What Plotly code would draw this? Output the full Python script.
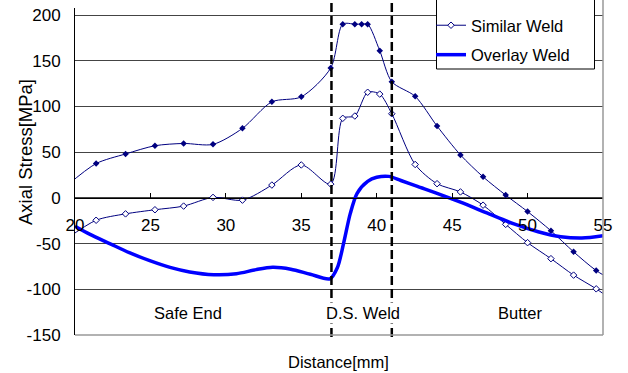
import plotly.graph_objects as go

# Axial stress along the weld path (distance in mm, stress in MPa)
marker_x = [19.43, 21.4, 23.35, 25.3, 27.2, 29.15, 31.1, 33.05, 35.0, 36.95,
            37.75, 38.55, 39.0, 39.4, 40.2, 41.0, 42.55, 44.0, 45.55, 47.05,
            48.55, 50.0, 51.55, 53.05, 54.55, 56.05]
dissimilar_y = [13, 37.5, 48, 57, 59.5, 58.5, 76, 105, 110.5, 142,
                190, 190, 190, 190, 161, 127, 111, 78.5, 47, 23,
                3, -15, -36, -59, -79.5, -94]

similar_x = [19.43, 21.4, 23.35, 25.3, 27.2, 29.15, 31.1, 33.05, 35.0, 36.95,
             37.75, 38.55, 39.4, 40.2, 41.0, 42.55, 44.0, 45.55, 47.05,
             48.55, 50.0, 51.55, 53.05, 54.55, 56.05]
similar_y = [-45, -24.5, -17.5, -13, -9, 0.5, -2.5, 14, 36, 15,
             87, 89.5, 115.5, 113.5, 92, 36.5, 15.5, 6.5, -8,
             -29, -49, -66.5, -84.5, -99.5, -117]

overlay_x = [20.0, 21.0, 22.3, 23.6, 25.0, 26.3, 27.6, 29.2, 30.7, 32.0, 33.1,
             34.3, 35.6, 36.9, 37.4, 37.8, 38.25, 38.7, 39.4, 40.0, 40.8,
             41.6, 42.7, 44.0, 45.6, 47.3, 49.1, 50.7, 52.2, 53.6, 55.0]
overlay_y = [-31, -40, -50, -60, -69, -76, -81, -84, -83, -78.5, -76,
             -78, -83.5, -88.5, -76, -50, -17, 5, 18, 22.5, 23.5,
             19, 12.5, 5, -5, -16.5, -28.5, -37, -42.5, -44, -41.5]

x_ticks = [20, 25, 30, 35, 40, 45, 50, 55]
y_ticks = [-150, -100, -50, 0, 50, 100, 150, 200]
zone_bounds = [37.0, 41.0]
zone_labels = [("Safe End", 27.5), ("D.S. Weld", 39.1), ("Butter", 49.5)]

FONT = "Liberation Sans, Arial, sans-serif"
NAVY = "#000080"
W, H = 628, 373
ML, MR, MT, MB = 75, 25, 8, 38
PW, PH = W - ML - MR, H - MT - MB
Y_MIN, Y_MAX = -150, 207.66


def px_to_paper_y(py):
    return (H - MB - py) / PH


def px_to_paper_x(px):
    return (px - ML) / PW


fig = go.Figure()

fig.add_trace(go.Scatter(
    x=marker_x, y=dissimilar_y, mode="lines+markers", name="Dissimilar Weld",
    line=dict(color=NAVY, width=1, shape="spline", smoothing=0.8),
    marker=dict(symbol="diamond", size=5, color=NAVY),
    showlegend=False, legendgroup="a"))

fig.add_trace(go.Scatter(
    x=similar_x, y=similar_y, mode="lines+markers", name="Similar Weld",
    line=dict(color=NAVY, width=1, shape="spline", smoothing=0.8),
    marker=dict(symbol="diamond", size=5, color="white",
                line=dict(color=NAVY, width=1)),
    legendgroup="b"))

fig.add_trace(go.Scatter(
    x=overlay_x, y=overlay_y, mode="lines", name="Overlay Weld",
    line=dict(color="#0000FF", width=3.5, shape="spline", smoothing=0.8),
    legendgroup="c"))

shapes = []
# zone boundaries (dashed), extending past the plot area
for xb in zone_bounds:
    shapes.append(dict(type="line", xref="x", yref="paper", x0=xb, x1=xb,
                       y0=px_to_paper_y(337), y1=px_to_paper_y(0),
                       line=dict(color="black", width=2.5, dash="9px,4px"),
                       layer="above"))
# right and bottom border of the plot area
shapes.append(dict(type="line", xref="paper", yref="paper", x0=1, x1=1,
                   y0=0, y1=px_to_paper_y(0), line=dict(color="#999999", width=1.5)))
shapes.append(dict(type="line", xref="paper", yref="paper", x0=0, x1=1,
                   y0=0, y1=0, line=dict(color="#999999", width=1.5)))
# legend frame
shapes.append(dict(type="rect", xref="paper", yref="paper",
                   x0=px_to_paper_x(436.5), x1=px_to_paper_x(594.5),
                   y0=px_to_paper_y(69), y1=px_to_paper_y(-10),
                   line=dict(color="black", width=1), fillcolor="white",
                   layer="above"))

annotations = []
for text, xc in zone_labels:
    annotations.append(dict(x=xc, y=-126, xref="x", yref="y", text=text,
                            showarrow=False, bgcolor="white", borderpad=1,
                            xanchor="center", yanchor="middle",
                            font=dict(size=16.5, color="black", family=FONT)))
annotations.append(dict(x=px_to_paper_x(25), y=px_to_paper_y(152), xref="paper", yref="paper",
                        text="Axial Stress[MPa]", textangle=-90, showarrow=False,
                        xanchor="center", yanchor="middle",
                        font=dict(size=18.5, color="black", family=FONT)))
annotations.append(dict(x=px_to_paper_x(338.5), y=px_to_paper_y(362), xref="paper", yref="paper",
                        text="Distance[mm]", showarrow=False,
                        xanchor="center", yanchor="middle",
                        font=dict(size=16.5, color="black", family=FONT)))

fig.update_layout(
    width=W, height=H,
    margin=dict(l=ML, r=MR, t=MT, b=MB, autoexpand=False),
    paper_bgcolor="white", plot_bgcolor="white",
    font=dict(family=FONT, size=17, color="black"),
    showlegend=True,
    legend=dict(x=px_to_paper_x(431), y=px_to_paper_y(8), xanchor="left", yanchor="top",
                bgcolor="rgba(0,0,0,0)", borderwidth=0,
                font=dict(size=16.5, family=FONT, color="black"),
                traceorder="grouped", tracegroupgap=5, itemwidth=30),
    shapes=shapes,
    annotations=annotations,
)

fig.update_xaxes(
    range=[20, 55], tickvals=x_ticks, ticktext=[str(v) for v in x_ticks],
    anchor="free", position=(0 - Y_MIN) / (Y_MAX - Y_MIN),
    showline=True, linecolor="black", linewidth=1,
    ticks="inside", ticklen=5, tickcolor="black",
    showgrid=False, zeroline=False, ticklabelstandoff=12,
    tickfont=dict(size=17, family=FONT, color="black"),
)
fig.update_yaxes(
    range=[Y_MIN, Y_MAX], tickvals=y_ticks, ticktext=[str(v) for v in y_ticks],
    showline=True, linecolor="black", linewidth=1,
    showgrid=True, gridcolor="#444444", gridwidth=1,
    zeroline=False, ticks="", ticklabelstandoff=10,
    tickfont=dict(size=17, family=FONT, color="black"),
)

fig.write_html("out.html")
